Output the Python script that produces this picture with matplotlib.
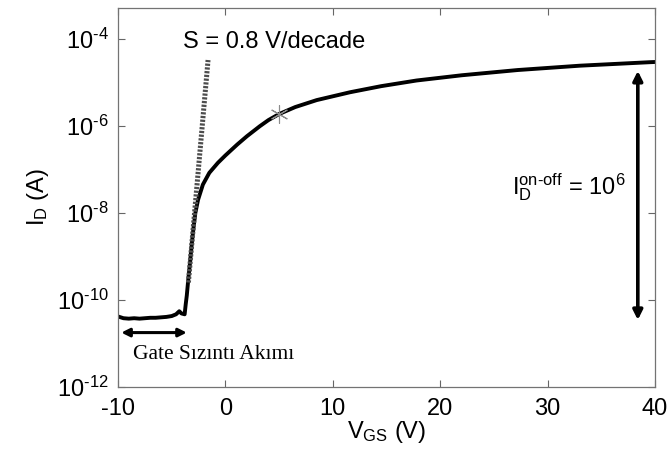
import numpy as np
import matplotlib.pyplot as plt

# ==================== 数据 ====================
vgs = [-10.0, -9.5, -9.0, -8.5, -8.0, -7.5, -7.0, -6.5, -6.0, -5.5, -5.0,
       -4.6, -4.3, -4.1, -3.8, -3.7, -3.6, -3.45, -3.3, -3.15, -3.0, -2.8,
       -2.55, -2.1, -1.5, -0.7, 0.0, 1.1, 2.0, 3.2, 4.0, 5.0, 6.5, 8.5,
       11.6, 14.5, 17.8, 22.0, 27.2, 33.0, 39.5, 40.0]
id_log = [-10.38, -10.42, -10.43, -10.42, -10.43, -10.42, -10.41, -10.41,
          -10.40, -10.39, -10.37, -10.33, -10.26, -10.31, -10.33, -10.10,
          -9.90, -9.50, -9.15, -8.75, -8.40, -8.00, -7.70, -7.35, -7.08,
          -6.85, -6.68, -6.43, -6.24, -6.01, -5.87, -5.73, -5.57, -5.41,
          -5.23, -5.09, -4.96, -4.84, -4.72, -4.62, -4.54, -4.535]
id_amp = [10 ** v for v in id_log]

# subthreshold slope line
s_vgs = [-3.45, -1.62]
s_id = [10 ** -9.6, 10 ** -4.49]

# marker point
star_vgs = [5.0]
star_id = [10 ** -5.73]

# arrows
gate_arrow_x = [-9.7, -3.6]
gate_arrow_y = 10 ** -10.75
onoff_arrow_x = 38.4
onoff_arrow_y = [10 ** -4.74, 10 ** -10.46]

x_ticks = [-10, 0, 10, 20, 30, 40]
y_exps = [-12, -10, -8, -6, -4]

# ==================== 样式 ====================
plt.rcParams['font.family'] = ['Liberation Sans', 'DejaVu Sans']
plt.rcParams['mathtext.fontset'] = 'custom'
plt.rcParams['mathtext.rm'] = 'Liberation Sans'
plt.rcParams['mathtext.it'] = 'Liberation Sans:italic'
plt.rcParams['mathtext.bf'] = 'Liberation Sans:bold'
plt.rcParams['axes.unicode_minus'] = False

fs = 17

fig = plt.figure(figsize=(6.67, 4.58), dpi=100)
ax = fig.add_axes([0.177, 0.155, 0.805, 0.828])

ax.plot(vgs, id_amp, color='black', linewidth=2.8, solid_joinstyle='round')
ax.plot(s_vgs, s_id, color='0.3', linewidth=3.6, linestyle=(0, (0.45, 0.3)))
ax.plot(star_vgs, star_id, linestyle='none', marker=(6, 2, 0), markersize=13,
        markeredgecolor='0.55', markeredgewidth=0.8)

ax.annotate('', xy=(gate_arrow_x[0], gate_arrow_y), xytext=(gate_arrow_x[1], gate_arrow_y),
            arrowprops=dict(arrowstyle='<|-|>', color='black', lw=2.2,
                            mutation_scale=12, shrinkA=0, shrinkB=0))
ax.annotate('', xy=(onoff_arrow_x, onoff_arrow_y[0]), xytext=(onoff_arrow_x, onoff_arrow_y[1]),
            arrowprops=dict(arrowstyle='<|-|>', color='black', lw=2.6,
                            mutation_scale=14, shrinkA=0, shrinkB=0))

ax.text(-3.95, 10 ** -4.08, 'S = 0.8 V/decade', fontsize=fs, va='center', ha='left')
ax.text(-8.6, 10 ** -11.26, 'Gate Sızıntı Akımı', fontsize=15.5, va='center', ha='left',
        family=['Liberation Serif', 'DejaVu Serif'])
ax.text(26.7, 10 ** -7.4, r'$\mathrm{I_D^{on\text{-}off}}$ = 10$^6$', fontsize=fs,
        va='center', ha='left')

ax.set_yscale('log')
ax.set_xlim(-10, 40)
ax.set_ylim(1e-12, 10 ** -3.29)
ax.set_xticks(x_ticks)
ax.set_xticklabels([str(t) for t in x_ticks])
ax.set_yticks([10.0 ** e for e in y_exps])
ax.set_yticklabels([r'10$^{\text{-}%d}$' % (-e) for e in y_exps])
ax.minorticks_off()
ax.tick_params(direction='in', top=True, right=True, length=5, width=0.8,
               color='0.4', labelsize=fs)
ax.tick_params(axis='x', pad=8)
ax.tick_params(axis='y', pad=7)
for sp in ax.spines.values():
    sp.set_color('0.45')
    sp.set_linewidth(0.9)

ax.set_xlabel(r'$\mathrm{V_{GS}}$ (V)', fontsize=fs, labelpad=-1)
ax.set_ylabel(r'$\mathrm{I_D}$ (A)', fontsize=fs, labelpad=4)

fig.savefig('out.png', dpi=100)
